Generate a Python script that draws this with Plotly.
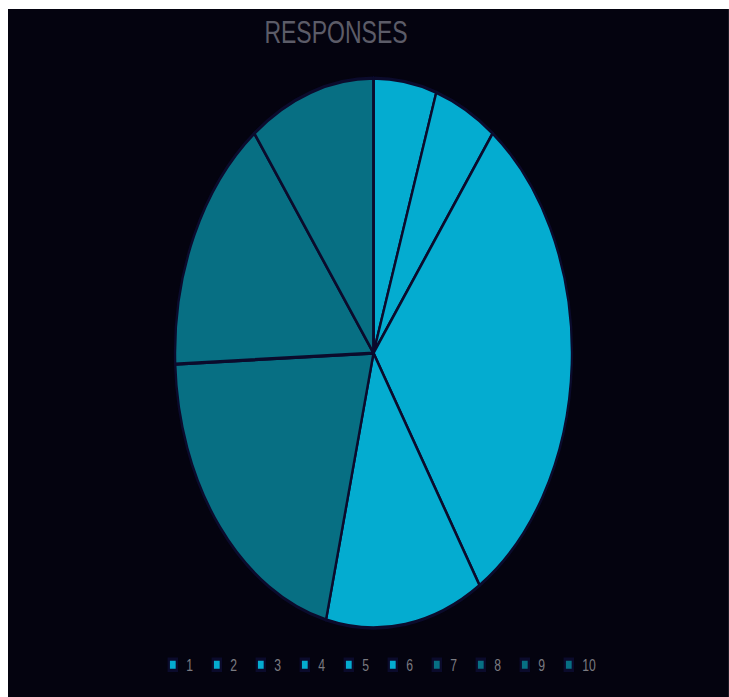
import plotly.graph_objects as go

categories = ["1", "2", "3", "4", "5", "6", "7", "8", "9", "10"]
responses = [0, 0, 2, 2, 12, 5, 8, 6, 4, 0]
bright = "#04acd0"
dark = "#076f83"
slice_colors = [bright] * 6 + [dark] * 4

SX, SY = 0.6769, 0.9375
W, H = round(721 / SX), round(688 / SY)

fig = go.Figure(
    go.Pie(
        labels=categories,
        values=responses,
        sort=False,
        direction="clockwise",
        rotation=0,
        textinfo="none",
        hoverinfo="label+value+percent",
        marker=dict(colors=slice_colors, line=dict(color="#0b0b2c", width=3.5)),
        domain=dict(x=[0.2317, 0.7823], y=[0.1005, 0.8995]),
    )
)

fig.update_layout(
    width=W,
    height=H,
    margin=dict(l=0, r=0, t=0, b=0),
    paper_bgcolor="#04030f",
    plot_bgcolor="#04030f",
    title=dict(
        text="RESPONSES",
        x=0.455,
        xanchor="center",
        y=0.983,
        yanchor="top",
        font=dict(family="Liberation Sans, Arial", size=34, color="#5c5c68"),
    ),
    legend=dict(
        orientation="h",
        x=0.515,
        xanchor="center",
        y=0.0467,
        yanchor="middle",
        font=dict(family="Liberation Sans, Arial", size=18, color="#7a7a80"),
        entrywidth=20,
        bgcolor="rgba(0,0,0,0)",
    ),
)

post = (
    "var gd=document.getElementById('{plot_id}');"
    "document.body.style.margin='9px 0 0 8px';"
    "document.body.style.overflow='hidden';"
    "var p=gd.parentElement;p.style.width='721px';p.style.height='688px';p.style.overflow='hidden';"
    "gd.style.transformOrigin='0 0';"
    "gd.style.transform='scale(" + str(SX) + "," + str(SY) + ")';"
)

fig.write_html("out.html", post_script=post)
